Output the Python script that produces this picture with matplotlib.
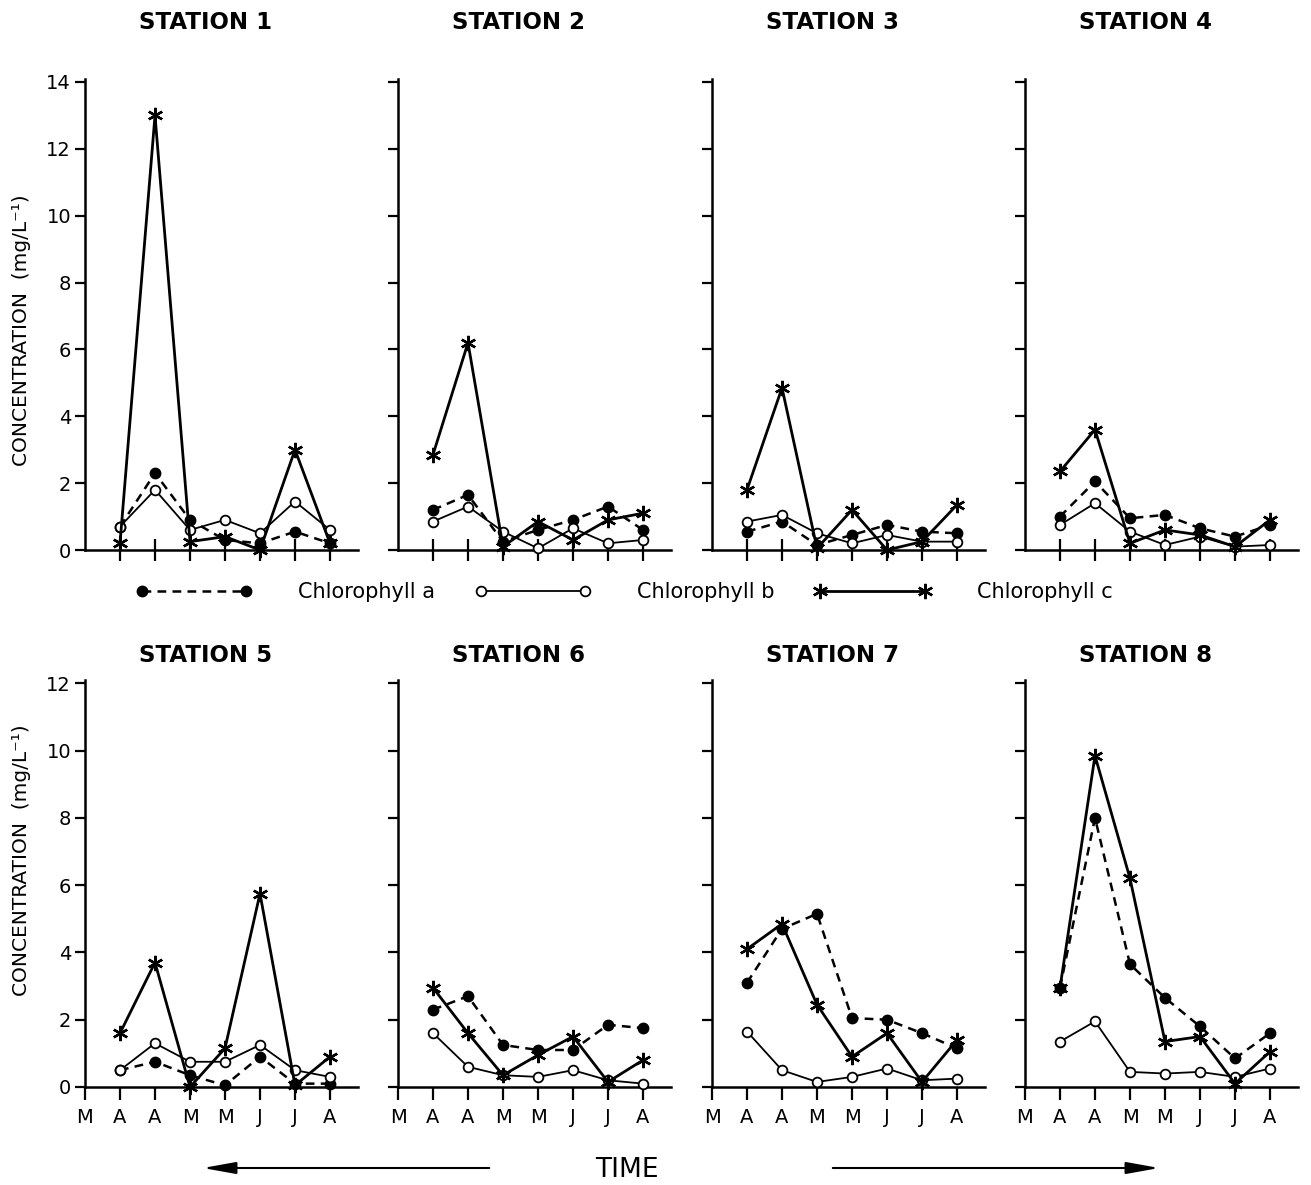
import numpy as np
import matplotlib
matplotlib.use("Agg")
import matplotlib.pyplot as plt
from matplotlib.patches import FancyArrowPatch

# sampling months (x = 0 sits on the y axis, samples at 1..7)
months = ['M', 'A', 'A', 'M', 'M', 'J', 'J', 'A']
samples = [1, 2, 3, 4, 5, 6, 7]
stations = ['STATION 1', 'STATION 2', 'STATION 3', 'STATION 4',
            'STATION 5', 'STATION 6', 'STATION 7', 'STATION 8']

# concentrations (mg/L), one list per station
chl_a = [[0.7, 2.3, 0.9, 0.3, 0.2, 0.55, 0.2],
         [1.2, 1.65, 0.25, 0.6, 0.9, 1.3, 0.6],
         [0.55, 0.85, 0.15, 0.45, 0.75, 0.55, 0.5],
         [1.0, 2.05, 0.95, 1.05, 0.65, 0.4, 0.75],
         [0.5, 0.75, 0.35, 0.05, 0.9, 0.1, 0.1],
         [2.3, 2.7, 1.25, 1.1, 1.1, 1.85, 1.75],
         [3.1, 4.7, 5.15, 2.05, 2.0, 1.6, 1.15],
         [2.95, 8.0, 3.65, 2.65, 1.8, 0.85, 1.6]]
chl_b = [[0.7, 1.8, 0.6, 0.9, 0.5, 1.45, 0.6],
         [0.85, 1.3, 0.55, 0.05, 0.65, 0.2, 0.3],
         [0.85, 1.05, 0.5, 0.2, 0.45, 0.25, 0.25],
         [0.75, 1.4, 0.55, 0.15, 0.4, 0.1, 0.15],
         [0.5, 1.3, 0.75, 0.75, 1.25, 0.5, 0.3],
         [1.6, 0.6, 0.35, 0.3, 0.5, 0.2, 0.1],
         [1.65, 0.5, 0.15, 0.3, 0.55, 0.2, 0.25],
         [1.35, 1.95, 0.45, 0.4, 0.45, 0.3, 0.55]]
chl_c = [[0.2, 13.0, 0.25, 0.4, 0.0, 3.0, 0.2],
         [2.85, 6.2, 0.1, 0.85, 0.3, 0.9, 1.1],
         [1.8, 4.85, 0.05, 1.2, 0.0, 0.25, 1.35],
         [2.35, 3.6, 0.2, 0.6, 0.45, 0.1, 0.9],
         [1.6, 3.7, 0.0, 1.15, 5.75, 0.05, 0.9],
         [2.95, 1.6, 0.35, 0.95, 1.5, 0.15, 0.8],
         [4.1, 4.85, 2.45, 0.9, 1.6, 0.15, 1.4],
         [2.95, 9.85, 6.2, 1.35, 1.5, 0.1, 1.05]]

top_ticks = [0, 2, 4, 6, 8, 10, 12, 14]
bottom_ticks = [0, 2, 4, 6, 8, 10, 12]

W, H = 1311, 1185
fig = plt.figure(figsize=(W / 100, H / 100), dpi=100)

lefts = [85, 398, 712, 1025]
axw = 273
axes = []
for row in range(2):
    for col in range(4):
        if row == 0:
            rect = [lefts[col] / W, (H - 550) / H, axw / W, 471.4 / H]
        else:
            rect = [lefts[col] / W, (H - 1087) / H, axw / W, 407.0 / H]
        axes.append(fig.add_axes(rect))

for i, ax in enumerate(axes):
    top = i < 4
    ax.plot(samples, chl_a[i], color='k', ls=(0, (3.5, 2.5)), lw=1.8,
            marker='o', ms=7.5, mfc='k', mec='k', clip_on=False, zorder=3,
            label='Chlorophyll a')
    ax.plot(samples, chl_b[i], color='k', ls='-', lw=1.3,
            marker='o', ms=7, mfc='white', mec='k', mew=1.3, clip_on=False,
            zorder=4, label='Chlorophyll b')
    ax.plot(samples, chl_c[i], color='k', ls='-', lw=2.0,
            marker=(6, 2, 0), ms=11, mew=1.7, clip_on=False, zorder=5,
            label='Chlorophyll c')

    ax.set_xlim(0, 7.8)
    ax.set_ylim(0, 14.1 if top else 12.1)
    for s in ['top', 'right']:
        ax.spines[s].set_visible(False)
    for s in ['left', 'bottom']:
        ax.spines[s].set_linewidth(1.8)

    ax.set_yticks(top_ticks if top else bottom_ticks)
    ax.tick_params(axis='y', direction='out', length=7, width=1.6,
                   labelsize=14, pad=3)
    if i % 4 != 0:
        ax.set_yticklabels([])

    if top:
        ax.set_xticks(samples)
        ax.set_xticklabels([])
        ax.tick_params(axis='x', direction='inout', length=16, width=1.6)
    else:
        ax.set_xticks(range(len(months)))
        ax.set_xticklabels(months)
        ax.tick_params(axis='x', direction='out', length=9, width=1.6,
                       labelsize=14, pad=6)

    ax.text(0.44, 1.12 if top else 1.061, stations[i], transform=ax.transAxes,
            ha='center', va='center', fontsize=16.5, fontweight='bold')

# y labels
for yc in (330, 860):
    fig.text(22 / W, 1 - yc / H, 'CONCENTRATION  (mg/L⁻¹)', rotation=90,
             ha='center', va='center', fontsize=14.5)

# legend across the middle
handles, labels = axes[0].get_legend_handles_labels()
fig.legend(handles, labels, loc='center', bbox_to_anchor=(624 / W, 1 - 592 / H),
           ncol=3, frameon=False, numpoints=2, handlelength=5.6,
           handletextpad=2.2, columnspacing=1.9, fontsize=15)

# time axis caption and arrows
fig.text(627 / W, 1 - 1170 / H, 'TIME', ha='center', va='center', fontsize=19)
ya = 1 - 1168 / H
for x0, x1 in ((492, 200), (830, 1162)):
    fig.add_artist(FancyArrowPatch((x0 / W, ya), (x1 / W, ya), transform=fig.transFigure,
                                   arrowstyle='-|>,head_length=1.0,head_width=0.18',
                                   mutation_scale=20, lw=1.5, color='k'))

fig.savefig('out.png', dpi=100)
